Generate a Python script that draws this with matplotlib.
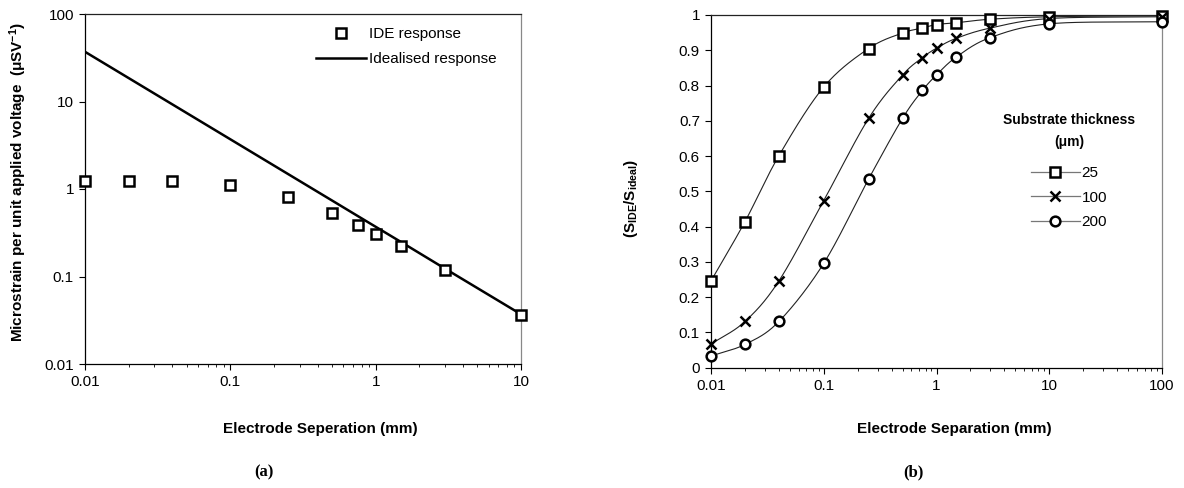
import matplotlib
matplotlib.use("Agg")
import matplotlib.pyplot as plt
import numpy as np
from matplotlib.ticker import FixedLocator, FuncFormatter, LogLocator, NullFormatter, NullLocator

plt.rcParams["font.family"] = ["Liberation Sans", "DejaVu Sans"]
plt.rcParams["mathtext.default"] = "regular"

# (a) response vs electrode separation
sepA = [0.01, 0.02, 0.04, 0.1, 0.25, 0.5, 0.75, 1, 1.5, 3, 10]
ideResponse = [1.25, 1.25, 1.23, 1.10, 0.80, 0.53, 0.39, 0.31, 0.225, 0.118, 0.0366]
idealResponse = [37, 18.5, 9.25, 3.7, 1.48, 0.74, 0.493, 0.37, 0.247, 0.123, 0.037]

# (b) normalised sensitivity per substrate thickness
sepB = [0.01, 0.02, 0.04, 0.1, 0.25, 0.5, 0.75, 1, 1.5, 3, 10, 100]
thick25 = [0.246, 0.414, 0.601, 0.796, 0.905, 0.949, 0.963, 0.973, 0.978, 0.988, 0.995, 0.998]
thick100 = [0.067, 0.131, 0.246, 0.474, 0.707, 0.830, 0.879, 0.906, 0.934, 0.963, 0.990, 0.995]
thick200 = [0.033, 0.066, 0.131, 0.296, 0.535, 0.707, 0.786, 0.830, 0.881, 0.936, 0.975, 0.981]
thicknessLabels = ["25", "100", "200"]


def smooth(xs, ys, n=40):
    # catmull-rom through the points, in log-x space (like excel's smoothed line)
    pts = np.column_stack([np.log10(xs), ys])
    p = np.vstack([2 * pts[0] - pts[1], pts, 2 * pts[-1] - pts[-2]])
    t = np.linspace(0, 1, n)[:, None]
    segs = []
    for i in range(1, len(p) - 2):
        p0, p1, p2, p3 = p[i - 1], p[i], p[i + 1], p[i + 2]
        segs.append(0.5 * (2 * p1 + (-p0 + p2) * t
                           + (2 * p0 - 5 * p1 + 4 * p2 - p3) * t ** 2
                           + (-p0 + 3 * p1 - 3 * p2 + p3) * t ** 3))
    c = np.vstack(segs)
    return 10 ** c[:, 0], c[:, 1]


def styleAxes(ax):
    ax.tick_params(which="major", direction="out", length=4, width=0.8, labelsize=11, pad=4)
    ax.tick_params(which="minor", direction="out", length=2.5, width=0.6)
    ax.spines["right"].set_color("#888888")
    ax.spines["top"].set_color("#222222")
    for s in ax.spines.values():
        s.set_linewidth(0.9)


W, H = 1184, 488
fig = plt.figure(figsize=(W / 100, H / 100), dpi=100)

# ---- panel (a)
ax1 = fig.add_axes([85 / W, 1 - 364 / H, 436 / W, 350 / H])
ax1.set_xscale("log")
ax1.set_yscale("log")
ax1.set_xlim(0.01, 10)
ax1.set_ylim(0.01, 100)
ax1.plot(sepA, idealResponse, color="black", lw=1.8, label="Idealised response", zorder=2)
ax1.plot(sepA, ideResponse, ls="none", marker="s", ms=6.5, mfc="white", mec="black", mew=1.8,
         label="IDE response", zorder=3, clip_on=False)
fmt = FuncFormatter(lambda v, p: "%g" % v)
ax1.xaxis.set_major_formatter(fmt)
ax1.yaxis.set_major_formatter(fmt)
ax1.yaxis.set_minor_locator(NullLocator())
ax1.xaxis.set_minor_locator(LogLocator(base=10, subs=np.arange(2, 10)))
ax1.xaxis.set_minor_formatter(NullFormatter())
styleAxes(ax1)
ax1.set_xlabel("Electrode Seperation (mm)", fontsize=11, fontweight="bold")
ax1.xaxis.set_label_coords(0.539, -0.165)
ax1.set_ylabel("Microstrain per unit applied voltage  (\u03bcSV$^{-1}$)", fontsize=11, fontweight="bold")
ax1.yaxis.set_label_coords(-0.128, 0.52)
h, l = ax1.get_legend_handles_labels()
ax1.legend(h[::-1], l[::-1], loc="upper left", bbox_to_anchor=(316 / W, 1 - 27 / H),
           bbox_transform=fig.transFigure, frameon=False, fontsize=11, handlelength=3.3,
           handletextpad=0.2, labelspacing=0.75, borderpad=0, borderaxespad=0, numpoints=1)

# ---- panel (b)
ax2 = fig.add_axes([711 / W, 1 - 367.7 / H, 451 / W, 352.7 / H])
ax2.set_xscale("log")
ax2.set_xlim(0.01, 100)
ax2.set_ylim(0, 1)
markers = ["s", "x", "o"]
handles = []
for ys, m, lab in zip([thick25, thick100, thick200], markers, thicknessLabels):
    sx, sy = smooth(sepB, ys)
    ax2.plot(sx, sy, color="#222222", lw=0.8, zorder=2)
    ax2.plot(sepB, ys, ls="none", marker=m, ms=7, mfc="white", mec="black",
             mew=1.8, zorder=3, clip_on=False)
    hnd, = ax2.plot([], [], color="#777777", lw=0.9, marker=m, ms=7, mfc="white", mec="black", mew=1.8)
    handles.append(hnd)
ax2.yaxis.set_major_locator(FixedLocator(np.round(np.arange(0, 1.01, 0.1), 1)))
ax2.yaxis.set_major_formatter(FuncFormatter(lambda v, p: "%g" % v))
ax2.xaxis.set_major_formatter(fmt)
ax2.xaxis.set_minor_locator(LogLocator(base=10, subs=np.arange(2, 10)))
ax2.xaxis.set_minor_formatter(NullFormatter())
styleAxes(ax2)
ax2.set_xlabel("Electrode Separation (mm)", fontsize=11, fontweight="bold")
ax2.xaxis.set_label_coords(0.54, -0.155)
ax2.set_ylabel("(S$_{IDE}$/S$_{ideal}$)", fontsize=11, fontweight="bold")
ax2.yaxis.set_label_coords(-0.158, 0.48)
fig.text(1069 / W, 1 - 120 / H, "Substrate thickness", ha="center", va="center",
         fontsize=10, fontweight="bold")
fig.text(1069 / W, 1 - 142 / H, "(\u03bcm)", ha="center", va="center", fontsize=10, fontweight="bold")
ax2.legend(handles, thicknessLabels, loc="upper left", bbox_to_anchor=(1031 / W, 1 - 166 / H),
           bbox_transform=fig.transFigure, frameon=False, fontsize=11, handlelength=3.2,
           handletextpad=0.1, labelspacing=0.7, borderpad=0, borderaxespad=0, numpoints=1)

# panel captions
fig.text(264 / W, 1 - 472 / H, "(a)", ha="center", va="center", fontsize=12, fontweight="bold",
         family="Liberation Serif")
fig.text(913 / W, 1 - 472 / H, "(b)", ha="center", va="center", fontsize=12, fontweight="bold",
         family="Liberation Serif")

fig.savefig("out.png", dpi=100)
